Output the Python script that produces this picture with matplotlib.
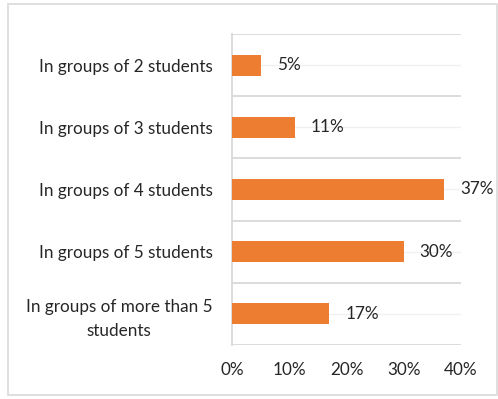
import numpy as np
import matplotlib.pyplot as plt
from matplotlib.patches import Rectangle

plt.rcParams['font.family'] = ['Lato', 'DejaVu Sans']

categories = ['In groups of 2 students', 'In groups of 3 students', 'In groups of 4 students',
              'In groups of 5 students', 'In groups of more than 5\nstudents']
values = [5, 11, 37, 30, 17]
xticks = [0, 10, 20, 30, 40]
bar_color = '#ED7D31'
fsize = 12.3

fig = plt.figure(figsize=(4.98, 3.99), dpi=100)
ax = fig.add_axes([232/498, 1-345/399, (461-232)/498, (345-34)/399])

y = np.arange(len(categories))
ax.barh(y, values, height=0.34, color=bar_color, zorder=3)

# category boundaries and faint centre lines
for b in np.arange(len(categories) + 1) - 0.5:
    ax.axhline(b, color='#d9d9d9', lw=1.3, zorder=1)
for c in y:
    ax.axhline(c, color='#f0f0f0', lw=1.0, zorder=1)

for yi, v in zip(y, values):
    ax.annotate(f'{v}%', (v, yi), xytext=(16, 0), textcoords='offset pixels',
                va='center', ha='left', fontsize=fsize, color='#262626', annotation_clip=False)

ax.set_xlim(0, 40)
ax.set_ylim(len(categories) - 0.5, -0.5)
ax.set_xticks(xticks)
ax.set_xticklabels([f'{t}%' for t in xticks])
ax.set_yticks(y)
ax.set_yticklabels(categories, ha='right', multialignment='center', linespacing=1.55)
ax.tick_params(axis='y', length=0, pad=14, labelsize=fsize, labelcolor='#262626')
ax.tick_params(axis='x', length=0, pad=12, labelsize=fsize, labelcolor='#262626')
for s in ['top', 'right', 'bottom']:
    ax.spines[s].set_visible(False)
ax.spines['left'].set_color('#d9d9d9')
ax.spines['left'].set_linewidth(1.3)

fig.patches.append(Rectangle((8/498, 4/399), 489/498, 391/399, transform=fig.transFigure,
                             fill=False, edgecolor='#d9d9d9', lw=1.2))

plt.savefig('out.png', dpi=100, facecolor='w')
